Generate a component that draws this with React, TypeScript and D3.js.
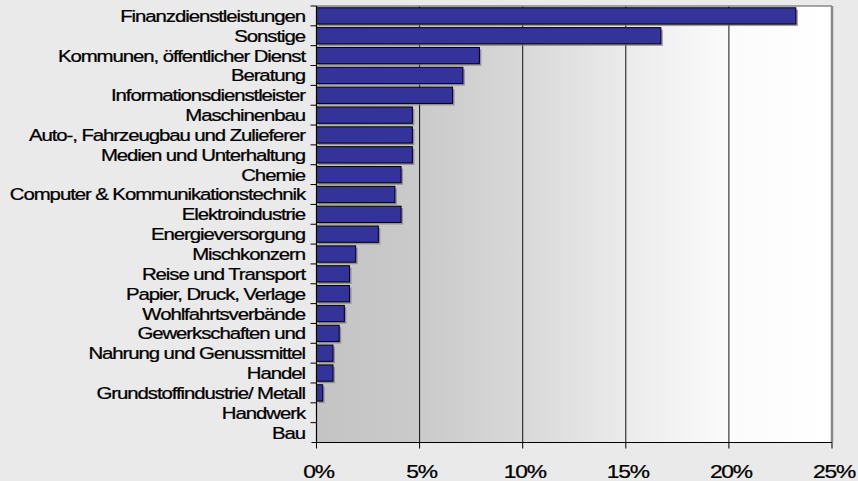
import React from "react";
import * as d3 from "d3";

const categories = [
  "Finanzdienstleistungen",
  "Sonstige",
  "Kommunen, öffentlicher Dienst",
  "Beratung",
  "Informationsdienstleister",
  "Maschinenbau",
  "Auto-, Fahrzeugbau und Zulieferer",
  "Medien und Unterhaltung",
  "Chemie",
  "Computer & Kommunikationstechnik",
  "Elektroindustrie",
  "Energieversorgung",
  "Mischkonzern",
  "Reise und Transport",
  "Papier, Druck, Verlage",
  "Wohlfahrtsverbände",
  "Gewerkschaften und",
  "Nahrung und Genussmittel",
  "Handel",
  "Grundstoffindustrie/ Metall",
  "Handwerk",
  "Bau",
];

const values = [
  23.25, 16.7, 7.9, 7.1, 6.6, 4.65, 4.65, 4.65, 4.1, 3.8, 4.1, 3.0, 1.9, 1.6,
  1.6, 1.35, 1.1, 0.8, 0.8, 0.3, 0, 0,
];

const xTicks = [0, 5, 10, 15, 20, 25];

const W = 858;
const H = 481;
const left = 316.5;
const right = 832;
const top = 6;
const bottom = 442.5;

export default function App() {
  const x = d3.scaleLinear().domain([0, 25]).range([left, right]);
  const y = d3
    .scaleBand<string>()
    .domain(categories)
    .range([top, bottom])
    .paddingInner(0.18)
    .paddingOuter(0.09);
  const step = y.step();
  const font = "'Liberation Sans', Arial, sans-serif";

  return (
    <svg
      width={W}
      height={H}
      style={{ position: "absolute", left: 0, top: 0, display: "block" }}
    >
      <defs>
        <linearGradient id="bg" x1="0" x2="1" y1="0" y2="0">
          <stop offset="0" stopColor="#c4c4c4" />
          <stop offset="0.2" stopColor="#cacaca" />
          <stop offset="0.4" stopColor="#d8d8d8" />
          <stop offset="0.6" stopColor="#ebebeb" />
          <stop offset="0.8" stopColor="#fbfbfb" />
          <stop offset="1" stopColor="#ffffff" />
        </linearGradient>
      </defs>
      <rect x={0} y={0} width={W} height={H} fill="#eaeaea" />
      <rect
        x={left}
        y={top}
        width={right - left}
        height={bottom - top}
        fill="url(#bg)"
      />
      {xTicks.slice(1, -1).map((t) => (
        <line
          key={"g" + t}
          x1={x(t)}
          x2={x(t)}
          y1={top}
          y2={bottom}
          stroke="#111"
          strokeWidth={1}
        />
      ))}
      <line x1={left} x2={right} y1={top} y2={top} stroke="#888" strokeWidth={1.5} />
      <line x1={right} x2={right} y1={top} y2={bottom} stroke="#888" strokeWidth={2.5} />
      {categories.map((c, i) =>
        values[i] > 0 ? (
          <g key={"b" + c}>
            <rect
              x={x(0) + 2}
              y={(y(c) as number) + 2}
              width={x(values[i]) - x(0)}
              height={y.bandwidth()}
              fill="#777"
              opacity={0.7}
            />
            <rect
              x={x(0)}
              y={y(c) as number}
              width={x(values[i]) - x(0)}
              height={y.bandwidth()}
              fill="#333399"
              stroke="#000"
              strokeWidth={1}
            />
          </g>
        ) : null
      )}
      <line x1={left} x2={left} y1={top} y2={bottom} stroke="#000" strokeWidth={1.2} />
      <line x1={left - 5} x2={right} y1={bottom} y2={bottom} stroke="#000" strokeWidth={1.2} />
      {categories.map((c, i) => (
        <line
          key={"ct" + i}
          x1={left - 6}
          x2={left}
          y1={top + i * step}
          y2={top + i * step}
          stroke="#000"
          strokeWidth={1}
        />
      ))}
      {xTicks.map((t) => (
        <line
          key={"xt" + t}
          x1={x(t)}
          x2={x(t)}
          y1={bottom}
          y2={bottom + 6}
          stroke="#000"
          strokeWidth={1}
        />
      ))}
      {categories.map((c) => {
        const cy = (y(c) as number) + y.bandwidth() / 2;
        return (
          <g key={"l" + c} transform={`translate(305,${cy + 6}) scale(1.2,1)`}>
            <text
              x={0}
              y={0}
              textAnchor="end"
              fontFamily={font}
              fontSize={17}
              letterSpacing={-0.9}
              fill="#000"
              stroke="#000"
              strokeWidth={0.25}
            >
              {c}
            </text>
          </g>
        );
      })}
      {xTicks.map((t) => (
        <g key={"xl" + t} transform={`translate(${x(t) + 2},478) scale(1.2,1)`}>
          <text
            x={0}
            y={0}
            textAnchor="middle"
            fontFamily={font}
            fontSize={19}
            letterSpacing={-1}
            fill="#000"
            stroke="#000"
            strokeWidth={0.25}
          >
            {t + "%"}
          </text>
        </g>
      ))}
    </svg>
  );
}
